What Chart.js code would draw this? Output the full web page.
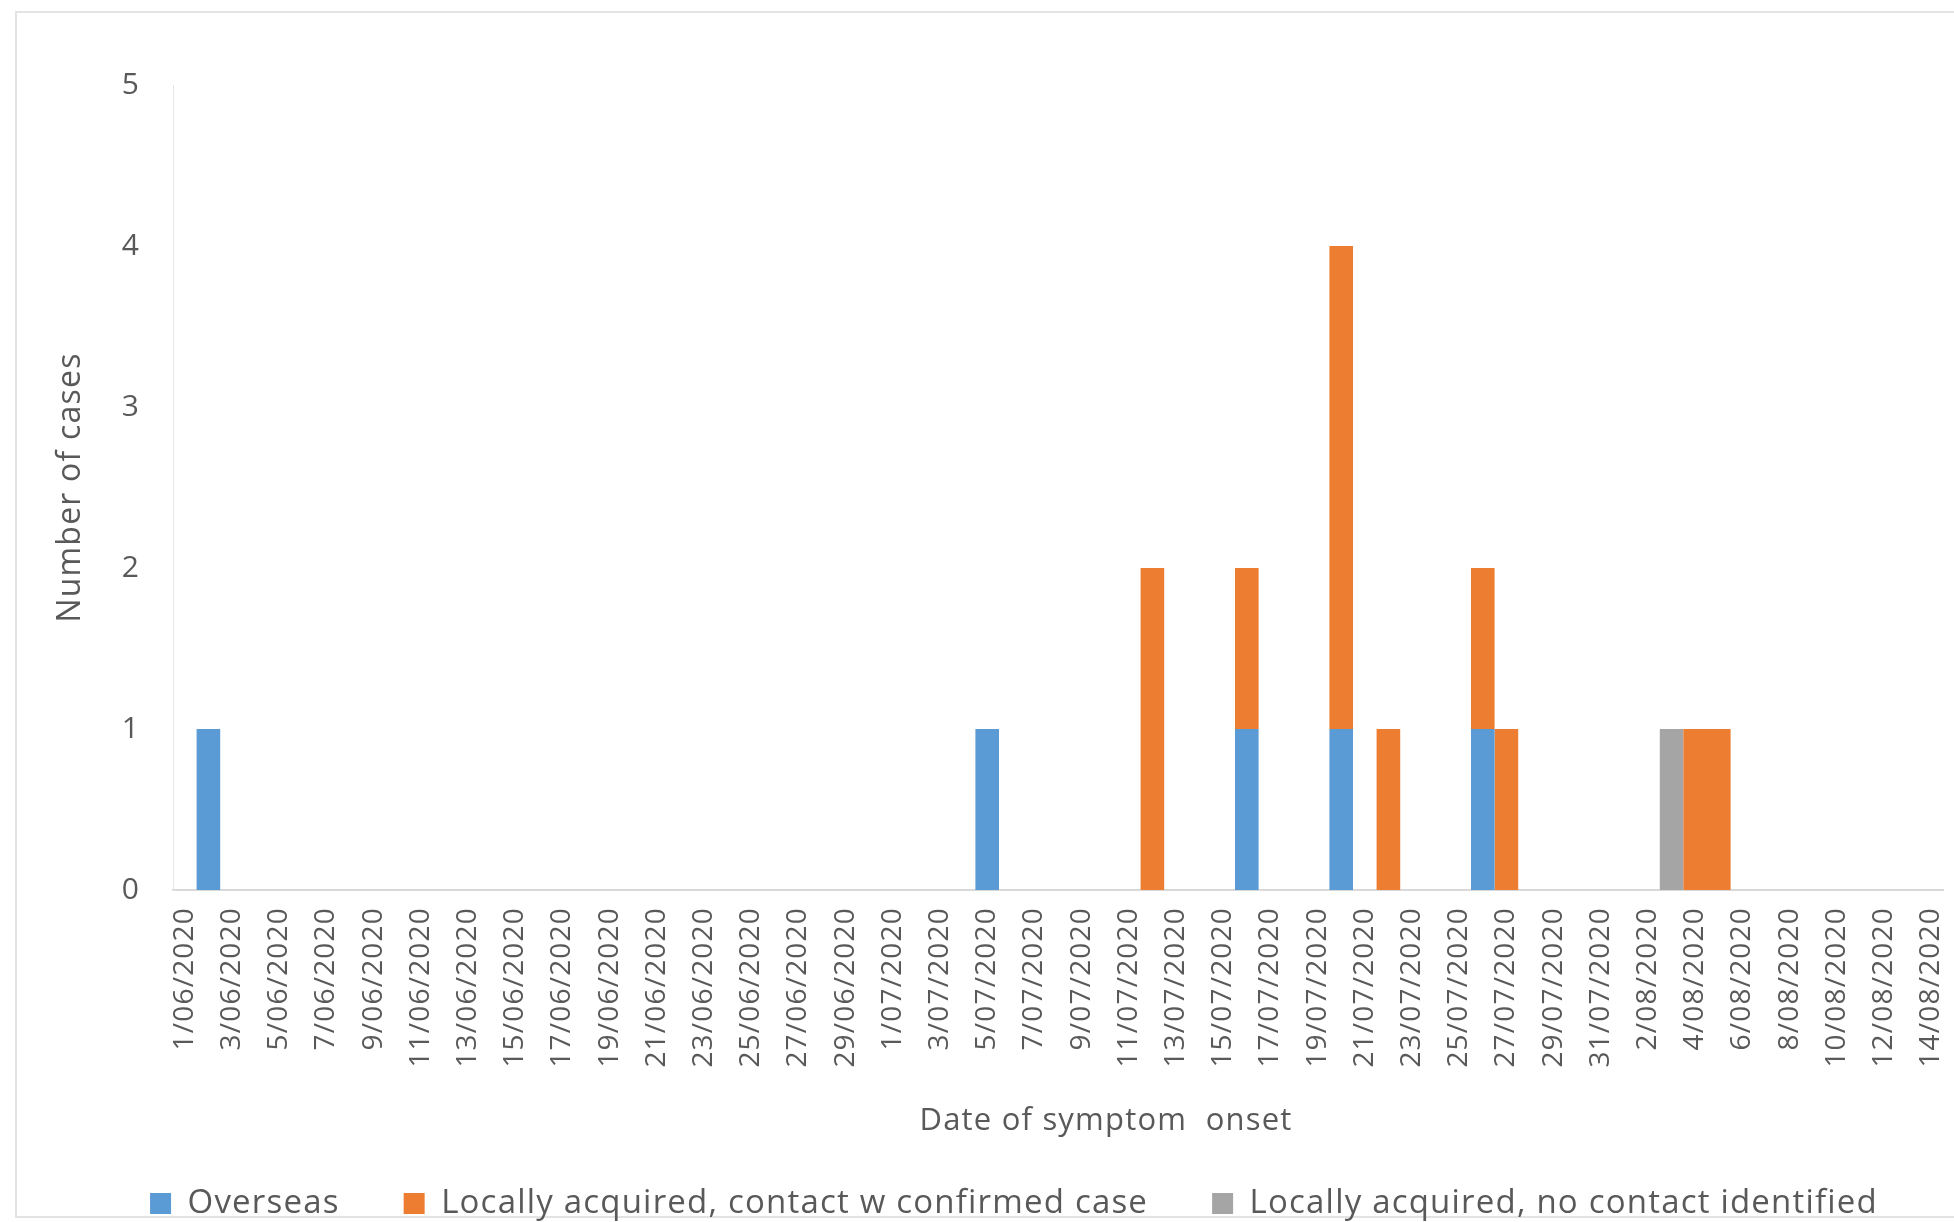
<!DOCTYPE html>
<html>
<head>
<meta charset="utf-8">
<script src="https://cdn.jsdelivr.net/npm/chart.js@4"></script>
<style>
  html, body { margin: 0; padding: 0; background: #ffffff; overflow: hidden; }
  #wrap { position: relative; width: 1954px; height: 1222px; overflow: hidden; background: #ffffff; }
  #frame { position: absolute; left: 15px; top: 11px; width: 1960px; height: 1207px; border: 2px solid #e3e3e3; box-sizing: border-box; }
  canvas { position: absolute; left: 0; top: 0; }
</style>
</head>
<body>
<div id="wrap">
  <div id="frame"></div>
  <canvas id="c" width="1954" height="1230"></canvas>
</div>
<script>
const categories = [
  '1/06/2020','2/06/2020','3/06/2020','4/06/2020','5/06/2020','6/06/2020','7/06/2020','8/06/2020','9/06/2020','10/06/2020',
  '11/06/2020','12/06/2020','13/06/2020','14/06/2020','15/06/2020','16/06/2020','17/06/2020','18/06/2020','19/06/2020','20/06/2020',
  '21/06/2020','22/06/2020','23/06/2020','24/06/2020','25/06/2020','26/06/2020','27/06/2020','28/06/2020','29/06/2020','30/06/2020',
  '1/07/2020','2/07/2020','3/07/2020','4/07/2020','5/07/2020','6/07/2020','7/07/2020','8/07/2020','9/07/2020','10/07/2020',
  '11/07/2020','12/07/2020','13/07/2020','14/07/2020','15/07/2020','16/07/2020','17/07/2020','18/07/2020','19/07/2020','20/07/2020',
  '21/07/2020','22/07/2020','23/07/2020','24/07/2020','25/07/2020','26/07/2020','27/07/2020','28/07/2020','29/07/2020','30/07/2020',
  '31/07/2020','1/08/2020','2/08/2020','3/08/2020','4/08/2020','5/08/2020','6/08/2020','7/08/2020','8/08/2020','9/08/2020',
  '10/08/2020','11/08/2020','12/08/2020','13/08/2020','14/08/2020'
];

// June (30), July (31), August 1-14 (14)
const overseas = [
  0,1,0,0,0,0,0,0,0,0, 0,0,0,0,0,0,0,0,0,0, 0,0,0,0,0,0,0,0,0,0,
  0,0,0,0,1,0,0,0,0,0, 0,0,0,0,0,1,0,0,0,1, 0,0,0,0,0,1,0,0,0,0, 0,
  0,0,0,0,0,0,0,0,0,0, 0,0,0,0
];
const localContact = [
  0,0,0,0,0,0,0,0,0,0, 0,0,0,0,0,0,0,0,0,0, 0,0,0,0,0,0,0,0,0,0,
  0,0,0,0,0,0,0,0,0,0, 0,2,0,0,0,1,0,0,0,3, 0,1,0,0,0,1,1,0,0,0, 0,
  0,0,0,1,1,0,0,0,0,0, 0,0,0,0
];
const localNoContact = [
  0,0,0,0,0,0,0,0,0,0, 0,0,0,0,0,0,0,0,0,0, 0,0,0,0,0,0,0,0,0,0,
  0,0,0,0,0,0,0,0,0,0, 0,0,0,0,0,0,0,0,0,0, 0,0,0,0,0,0,0,0,0,0, 0,
  0,0,1,0,0,0,0,0,0,0, 0,0,0,0
];
const seriesNames = ['Overseas', 'Locally acquired, contact w confirmed case', 'Locally acquired, no contact identified'];
const yTicks = [0, 1, 2, 3, 4, 5];
const xTitle = 'Date of symptom  onset';
const yTitle = 'Number of cases';

const TEXT = '#595959';
const FONT = "'Open Sans', 'Noto Sans', sans-serif";
const X_TITLE_SHIFT = 48;

class ShiftedCategoryScale extends Chart.CategoryScale {
  drawTitle() {
    this.ctx.save();
    this.ctx.translate(X_TITLE_SHIFT, 0);
    super.drawTitle();
    this.ctx.restore();
  }
}
ShiftedCategoryScale.id = 'shiftedCategory';
ShiftedCategoryScale.defaults = Chart.CategoryScale.defaults;
Chart.register(ShiftedCategoryScale);

const spacingPlugin = {
  id: 'letterSpacing',
  beforeUpdate(chart) { chart.ctx.letterSpacing = '1.2px'; },
  beforeDraw(chart) { chart.ctx.letterSpacing = '1.2px'; }
};

new Chart(document.getElementById('c'), {
  type: 'bar',
  data: {
    labels: categories,
    datasets: [
      { label: seriesNames[0], data: overseas, backgroundColor: '#5B9BD5' },
      { label: seriesNames[1], data: localContact, backgroundColor: '#ED7D31' },
      { label: seriesNames[2], data: localNoContact, backgroundColor: '#A5A5A5' }
    ]
  },
  plugins: [spacingPlugin],
  options: {
    responsive: false,
    animation: false,
    devicePixelRatio: 1,
    datasets: { bar: { categoryPercentage: 1.0, barPercentage: 1.0, borderWidth: 0, inflateAmount: 0 } },
    layout: { padding: { left: 85, right: 11, top: 85, bottom: 0 } },
    plugins: {
      tooltip: { enabled: false },
      legend: {
        position: 'bottom',
        labels: {
          color: TEXT,
          font: { family: FONT, size: 33 },
          boxWidth: 21,
          boxHeight: 21,
          padding: 64
        }
      }
    },
    scales: {
      x: {
        type: 'shiftedCategory',
        stacked: true,
        offset: true,
        grid: { display: false, drawTicks: false },
        border: { display: true, color: '#d9d9d9', width: 2 },
        ticks: {
          color: TEXT,
          font: { family: FONT, size: 28 },
          autoSkip: false,
          minRotation: 90,
          maxRotation: 90,
          padding: 17,
          callback: (v, i) => (i % 2 === 0 ? categories[i] : '')
        },
        title: {
          display: true,
          text: xTitle,
          color: TEXT,
          font: { family: FONT, size: 31 },
          padding: { top: 0, bottom: -17 }
        },
        afterFit(scale) { scale.height = 233; scale.paddingLeft = 0; scale.paddingRight = 0; }
      },
      y: {
        stacked: true,
        min: 0,
        max: 5,
        grid: { display: false, drawTicks: false },
        border: { display: true, color: '#e6e6e6', width: 1 },
        afterBuildTicks(scale) { scale.ticks = yTicks.map(v => ({ value: v })); },
        ticks: {
          color: TEXT,
          font: { family: FONT, size: 30 },
          padding: 33
        },
        title: {
          display: true,
          text: yTitle,
          color: TEXT,
          font: { family: FONT, size: 32 },
          padding: { top: -33, bottom: 0 }
        },
        afterFit(scale) { scale.width = 88; scale.paddingTop = 0; scale.paddingBottom = 0; }
      }
    }
  }
});
</script>
</body>
</html>
